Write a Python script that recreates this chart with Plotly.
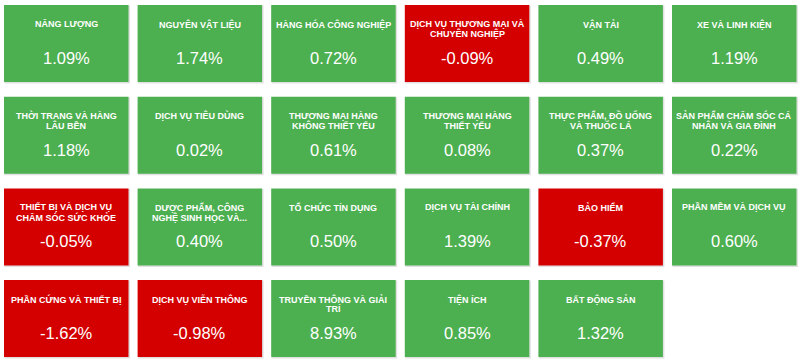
import plotly.graph_objects as go

sectors = [
    "NĂNG LƯỢNG", "NGUYÊN VẬT LIỆU", "HÀNG HÓA CÔNG NGHIỆP",
    "DỊCH VỤ THƯƠNG MẠI VÀ<br>CHUYÊN NGHIỆP", "VẬN TẢI", "XE VÀ LINH KIỆN",
    "THỜI TRANG VÀ HÀNG<br>LÂU BỀN", "DỊCH VỤ TIÊU DÙNG", "THƯƠNG MẠI HÀNG<br>KHÔNG THIẾT YẾU",
    "THƯƠNG MẠI HÀNG<br>THIẾT YẾU", "THỰC PHẨM, ĐỒ UỐNG<br>VÀ THUỐC LÁ", "SẢN PHẨM CHĂM SÓC CÁ<br>NHÂN VÀ GIA ĐÌNH",
    "THIẾT BỊ VÀ DỊCH VỤ<br>CHĂM SÓC SỨC KHỎE", "DƯỢC PHẨM, CÔNG<br>NGHỆ SINH HỌC VÀ...", "TỔ CHỨC TÍN DỤNG",
    "DỊCH VỤ TÀI CHÍNH", "BẢO HIỂM", "PHẦN MỀM VÀ DỊCH VỤ",
    "PHẦN CỨNG VÀ THIẾT BỊ", "DỊCH VỤ VIỄN THÔNG", "TRUYỀN THÔNG VÀ GIẢI<br>TRÍ",
    "TIỆN ÍCH", "BẤT ĐỘNG SẢN",
]
changes = [
    1.09, 1.74, 0.72, -0.09, 0.49, 1.19,
    1.18, 0.02, 0.61, 0.08, 0.37, 0.22,
    -0.05, 0.40, 0.50, 1.39, -0.37, 0.60,
    -1.62, -0.98, 8.93, 0.85, 1.32,
]

N_COLS = 6
X0, PITCH_X, W = 4.0, 133.6, 124.5
Y0, PITCH_Y, H = 5.0, 91.7, 77.0
GREEN = "#4CAF50"
RED = "#D40000"
FONT = "Arial, Liberation Sans, sans-serif"

fig = go.Figure()
shapes = []
annotations = []
for i, (name, val) in enumerate(zip(sectors, changes)):
    c, r = i % N_COLS, i // N_COLS
    x0 = X0 + c * PITCH_X
    y0 = Y0 + r * PITCH_Y
    color = GREEN if val >= 0 else RED
    # soft shadow
    shapes.append(dict(type="rect", xref="x", yref="y", x0=x0 + 0.5, x1=x0 + W + 1.5,
                       y0=y0 + 0.5, y1=y0 + H + 1.5, fillcolor="rgba(0,0,0,0.12)",
                       line=dict(width=0), layer="below"))
    shapes.append(dict(type="rect", xref="x", yref="y", x0=x0, x1=x0 + W,
                       y0=y0, y1=y0 + H, fillcolor=color, line=dict(width=0), layer="below"))
    cx = x0 + W / 2
    for k, line in enumerate(name.split("<br>")):
        annotations.append(dict(x=cx, y=y0 + 19 + k * 9.8, xref="x", yref="y", text="<b>" + line + "</b>",
                                showarrow=False, xanchor="center", yanchor="middle",
                                font=dict(family=FONT, size=9, color="white")))
    annotations.append(dict(x=cx, y=y0 + 53, xref="x", yref="y", text=f"{val:.2f}%",
                            showarrow=False, xanchor="center", yanchor="middle",
                            font=dict(family=FONT, size=16.5, color="white")))

fig.update_layout(
    width=800, height=361,
    margin=dict(l=0, r=0, t=0, b=0),
    paper_bgcolor="white", plot_bgcolor="white",
    xaxis=dict(range=[0, 800], visible=False, fixedrange=True),
    yaxis=dict(range=[361, 0], visible=False, fixedrange=True),
    shapes=shapes, annotations=annotations, showlegend=False,
)
fig.write_html("out.html", config={"displayModeBar": False})

with open("out.html", "r", encoding="utf-8") as f:
    html = f.read()
html = html.replace("<body>", '<body style="margin:0;padding:0;overflow:hidden">', 1)
with open("out.html", "w", encoding="utf-8") as f:
    f.write(html)
